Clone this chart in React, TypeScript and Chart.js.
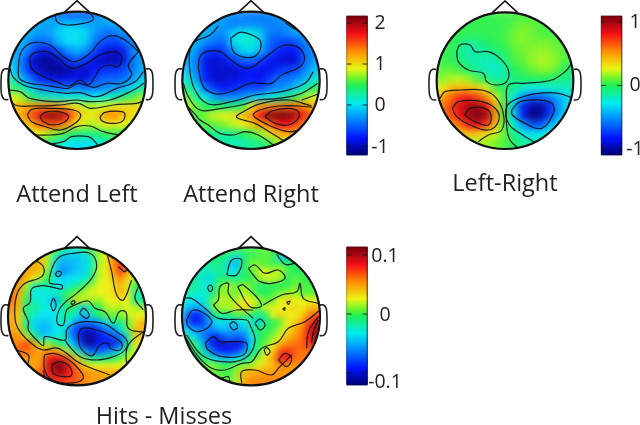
import React, { useEffect, useRef } from "react";
import { Chart, registerables } from "chart.js";

Chart.register(...registerables);

type Pt = number[];

// ---- scalp potential ----
const attendLeftGrid: number[][] = [
  [-.2,-.2,-.2,-.2,-.2,-.4,-.5,-.5,-.5,-.4,-.15,-.15,-.15,-.15,-.15],
  [-.2,-.2,-.2,-.2,-.25,-.2,-.1,-.15,-.2,-.25,-.25,-.2,-.2,-.2,-.2],
  [-.2,-.2,-.2,-.3,-.25,-.05,.02,.03,-.05,-.3,-.45,-.45,-.3,-.3,-.3],
  [-.15,-.15,-.4,-.5,-.45,-.15,0,0,-.1,-.45,-.6,-.65,-.55,-.3,-.3],
  [-.25,-.25,-.55,-.85,-.85,-.6,-.35,-.2,-.35,-.65,-.85,-.95,-.85,-.4,-.2],
  [-.1,-.4,-.9,-1.1,-1.1,-.95,-.7,-.55,-.7,-.9,-1,-1.05,-.95,-.45,-.25],
  [-.05,-.4,-.8,-1,-1.1,-1.15,-1.05,-.95,-.95,-.8,-.7,-.7,-.6,-.45,-.2],
  [.25,-.15,-.5,-.75,-.85,-.9,-.85,-.85,-.9,-.6,-.5,-.5,-.45,-.3,-.05],
  [.55,.25,-.05,-.3,-.4,-.45,-.4,-.35,-.45,-.4,-.35,-.3,-.2,-.05,.3],
  [.9,.75,.45,.25,.2,.15,.1,.15,.05,.05,.15,.2,.4,.55,.75],
  [1.1,1.2,1.3,1.35,1.35,1.25,1.1,.95,.8,.8,.85,.95,1,1,1],
  [1.05,1.2,1.5,1.85,2.1,2.05,1.75,1.2,.95,.95,1.25,1.35,1.15,1,.95],
  [1,1.05,1.15,1.45,1.55,1.5,1.25,.95,.8,.8,.9,.95,.9,.8,.8],
  [.9,.9,.9,.9,.75,.65,.5,.4,.35,.4,.5,.55,.5,.5,.5],
  [.55,.55,.55,.55,.35,.2,.05,0,0,.05,.2,.3,.3,.3,.3],
];

const attendRightGrid: number[][] = [
  [-.2,-.2,-.2,-.2,-.25,-.3,-.35,-.4,-.4,-.35,-.3,-.2,-.1,-.1,-.1],
  [-.15,-.15,-.15,-.2,-.3,-.4,-.35,-.35,-.35,-.4,-.35,-.3,-.1,-.05,-.05],
  [-.1,-.1,-.15,-.3,-.35,-.05,.1,.1,-.1,-.4,-.45,-.35,-.25,-.2,-.2],
  [-.05,-.2,-.35,-.45,-.5,0,.15,.15,-.05,-.5,-.6,-.65,-.55,-.35,-.3],
  [-.1,-.3,-.65,-.75,-.65,-.35,-.05,0,-.2,-.55,-.75,-.85,-.8,-.4,-.3],
  [-.2,-.4,-.85,-.95,-.85,-.7,-.55,-.5,-.65,-.8,-.9,-.95,-.9,-.45,-.25],
  [-.1,-.4,-.85,-.95,-.95,-.95,-.85,-.8,-.85,-.85,-.7,-.65,-.6,-.35,-.1],
  [.15,-.25,-.8,-.95,-.95,-.9,-.85,-.8,-.85,-.65,-.45,-.45,-.35,-.15,.15],
  [.4,.05,-.45,-.7,-.85,-.75,-.65,-.6,-.65,-.45,-.35,-.25,-.05,.25,.5],
  [.7,.3,.05,-.25,-.4,-.35,-.3,-.15,-.05,.1,.2,.35,.55,.75,.9],
  [.85,.65,.45,.45,.45,.4,.5,.95,1.3,1.35,1.4,1.45,1.45,1.3,1.15],
  [.6,.55,.7,.85,.9,.95,1.1,1.3,1.75,2.1,2.17,2.17,1.95,1.65,1.3],
  [.4,.45,.6,.6,.7,.8,.9,1.05,1.25,1.4,1.75,1.75,1.55,1.3,1.3],
  [.35,.35,.35,.3,.3,.35,.45,.55,.7,.95,1.15,1.2,1.2,1.2,1.2],
  [.25,.25,.25,.25,.25,.2,.25,.3,.35,.5,.8,.9,.9,.9,.9],
];

const leftRightGrid: number[][] = [
  [.02,.02,.02,.02,.02,.02,.05,.05,.05,.05,.05,.02,.02,.02,.02],
  [.03,.03,.03,.03,.03,.03,.03,.03,.08,.12,.1,.06,.05,.05,.05],
  [.03,.03,.03,.02,.02,.02,.03,.05,.12,.15,.1,.07,.05,.05,.05],
  [.02,.02,-.02,-.12,-.08,-.02,.02,.04,.12,.14,.12,.13,.12,.08,.08],
  [.03,.03,-.1,-.16,-.12,-.12,-.06,.01,.08,.12,.15,.17,.15,.1,.06],
  [.04,.03,-.05,-.12,-.16,-.18,-.16,-.06,.06,.1,.17,.2,.18,.12,.03],
  [.08,.1,.06,-.03,-.13,-.18,-.2,-.14,0,.05,.1,.14,.14,.05,-.05],
  [.15,.2,.22,.18,.08,-.05,-.15,-.12,-.06,-.04,-.02,0,-.02,-.06,-.1],
  [.3,.42,.45,.42,.38,.25,.05,-.02,-.1,-.2,-.25,-.25,-.22,-.2,-.18],
  [.5,.62,.78,.8,.72,.55,.25,0,-.28,-.55,-.65,-.65,-.55,-.4,-.3],
  [.55,.72,.88,1,1.02,.85,.42,.02,-.4,-.85,-1,-1,-.75,-.45,-.3],
  [.6,.68,.82,1.02,1.09,1,.5,.04,-.35,-.85,-1.09,-1,-.7,-.4,-.3],
  [.5,.5,.62,.8,.88,.72,.4,.05,-.25,-.5,-.7,-.65,-.4,-.3,-.3],
  [.4,.4,.4,.4,.4,.32,.22,.08,-.08,-.25,-.3,-.25,-.25,-.25,-.25],
  [.2,.2,.2,.2,.2,.17,.12,.06,-.02,-.1,-.15,-.15,-.15,-.15,-.15],
];

const hitsMissesAGrid: number[][] = [
  [.04,.04,.04,.04,.04,.03,.01,-.01,-.02,-.02,-.01,.01,.02,.03,.05,.05,.05,.05,.05],
  [.05,.05,.05,.05,.04,.02,-.02,-.04,-.04,-.04,-.035,-.015,.02,.03,.06,.06,.06,.06,.06],
  [.05,.05,.05,.05,.05,.02,-.035,-.05,-.045,-.04,-.035,-.02,.02,.03,.06,.08,.08,.07,.07],
  [.06,.06,.05,.05,.04,.01,-.035,-.06,-.045,-.04,-.035,-.01,.025,.03,.055,.08,.05,.04,.04],
  [.06,.06,.05,.03,.02,0,-.03,-.035,-.03,-.03,-.025,-.005,.025,.03,.04,.06,.035,.02,.02],
  [.06,.055,.02,-.02,-.015,-.015,-.025,-.035,-.02,-.01,.005,.02,.03,.03,.035,.05,.03,0,-.01],
  [.07,.05,.01,-.03,-.03,-.025,-.02,-.01,.005,.015,.02,.03,.03,.03,.035,.05,.03,-.015,-.02],
  [.07,.045,0,-.02,-.025,-.03,-.05,-.01,.01,.04,.02,.02,.015,.03,.03,.03,.03,-.01,-.015],
  [.06,.045,-.01,-.01,-.02,-.025,-.03,-.02,0,-.01,-.04,-.005,0,.02,.025,.02,.03,.02,.02],
  [.055,.04,-.005,-.02,-.03,-.03,-.03,-.015,-.01,-.03,-.045,-.02,0,.01,.01,.015,.025,.03,.03],
  [.055,.04,-.01,-.035,-.04,-.04,-.03,-.015,-.03,-.06,-.06,-.06,-.05,-.03,-.01,-.005,.01,.035,.05],
  [.055,.045,0,-.03,-.045,-.045,-.03,-.025,-.055,-.08,-.095,-.095,-.08,-.06,-.055,-.03,.01,.045,.05],
  [.06,.06,.035,0,-.035,-.035,-.025,-.02,-.05,-.08,-.11,-.11,-.095,-.085,-.07,-.065,-.02,.04,.045],
  [.06,.06,.08,.06,.02,.02,.005,-.005,-.03,-.06,-.1,-.11,-.085,-.085,-.1,-.07,-.01,.035,.035],
  [.07,.07,.065,.06,.055,.06,.06,.04,.015,-.02,-.05,-.07,-.07,-.06,-.05,-.03,.01,.03,.03],
  [.055,.055,.055,.055,.05,.09,.095,.09,.065,.04,.01,-.01,-.01,-.005,0,.01,.025,.025,.025],
  [.05,.05,.05,.05,.06,.095,.115,.115,.085,.06,.045,.03,.03,.03,.03,.03,.03,.03,.03],
  [.06,.06,.06,.06,.07,.085,.105,.105,.085,.07,.06,.055,.055,.05,.05,.05,.05,.05,.05],
  [.07,.07,.07,.07,.07,.08,.08,.08,.075,.07,.06,.055,.055,.05,.05,.05,.05,.05,.05],
];

const hitsMissesBGrid: number[][] = [
  [0,0,0,0,0,0,.005,.005,.005,.005,.005,.012,.005,-.02,-.03,-.03,-.02,-.02,-.02],
  [0,0,0,0,-.005,-.005,-.015,-.035,-.005,.005,.005,.01,.005,-.03,-.045,-.03,-.02,-.02,-.02],
  [-.015,-.015,-.015,-.015,-.01,-.01,-.035,-.045,-.005,.015,.015,.005,.005,.005,0,0,0,0,0],
  [-.015,-.015,-.015,-.02,-.015,-.01,-.03,-.03,0,.005,.025,.03,.02,.025,.005,0,0,0,0],
  [-.01,-.01,-.02,-.035,-.02,0,-.005,-.01,0,0,.015,.025,.025,.02,0,.01,.005,0,0],
  [-.01,-.01,-.02,-.025,-.01,.015,.02,.01,.02,.01,-.005,-.005,0,0,0,.015,.005,.005,.005],
  [-.015,-.02,-.025,-.02,-.005,.02,.015,.01,.025,.015,0,0,.005,.015,.02,.02,.01,.01,.01],
  [-.025,-.03,-.035,-.015,.015,.025,.02,.02,.03,.03,.02,.01,.01,.03,.04,.03,.03,.03,.03],
  [-.04,-.05,-.045,-.025,.015,.02,.02,.035,.04,.03,.005,.025,.03,.03,.03,.04,.03,.045,.05],
  [-.055,-.09,-.085,-.05,-.01,-.005,-.005,.005,.01,-.005,-.01,-.005,.03,.04,.035,.03,.04,.06,.075],
  [-.06,-.09,-.085,-.06,-.035,-.03,-.04,-.035,-.03,-.015,-.04,-.005,0,.01,.03,.04,.055,.08,.1],
  [-.03,-.05,-.06,-.06,-.055,-.04,-.045,-.05,-.04,-.015,0,0,.005,.02,.035,.05,.06,.09,.11],
  [-.01,-.03,-.05,-.07,-.09,-.075,-.06,-.07,-.065,-.03,-.005,.005,.015,.03,.045,.055,.065,.09,.11],
  [.005,.005,-.025,-.075,-.095,-.1,-.095,-.095,-.085,-.03,0,.01,.03,.05,.06,.065,.07,.08,.08],
  [-.005,-.005,-.005,-.045,-.075,-.085,-.085,-.08,-.055,-.015,0,.03,.04,.075,.085,.07,.065,.065,.065],
  [-.005,-.005,-.005,-.005,-.03,-.04,-.04,-.03,-.02,0,.02,.035,.05,.085,.09,.065,.065,.065,.065],
  [.015,.015,.015,.015,.015,.005,.005,.015,.015,.02,.03,.04,.045,.06,.055,.055,.055,.055,.055],
  [.01,.01,.01,.01,.01,.01,0,.02,.05,.05,.055,.055,.055,.055,.055,.055,.055,.055,.055],
  [.01,.01,.01,.01,.01,.01,.01,.02,.05,.06,.06,.06,.06,.06,.06,.06,.06,.06,.06],
];

// ---- contour lines (head units) ----
const attendLeftContours: Pt[][] = [
  [[165,45],[172,66],[200,75],[250,70],[280,58],[268,36]],
  [[55,205],[60,165],[75,140],[105,127],[150,135],[190,170],[225,185],[270,160],[300,125],[335,107],[375,120],[415,155]],
  [[55,205],[58,235],[90,250],[130,255],[175,262],[205,265],[235,250],[280,262],[320,250],[365,250],[395,225],[385,195],[415,155]],
  [[88,175],[100,160],[140,155],[175,175],[215,205],[260,190],[300,165],[345,155],[365,170],[355,200],[330,195],[300,205],[285,230],[265,255],[240,240],[205,258],[170,245],[120,225],[95,205],[88,175]],
  [[30,205],[40,232],[70,255],[130,270],[200,280],[240,278],[290,290],[350,265],[405,245],[430,215]],
  [[27,270],[60,275],[90,295],[170,305],[230,300],[270,305],[330,300],[400,270],[432,250]],
  [[28,290],[45,315],[100,318],[180,315],[235,310],[270,325],[340,315],[410,310],[425,305]],
  [[82,345],[95,328],[150,325],[220,330],[242,345],[225,370],[180,390],[130,378],[95,365],[82,345]],
  [[120,350],[135,337],[175,335],[205,348],[195,365],[160,375],[130,365],[120,350]],
  [[300,350],[315,337],[365,335],[375,345],[365,365],[330,370],[305,362],[300,350]],
  [[110,405],[150,405],[190,400],[230,380],[270,378],[310,395],[355,405]],
  [[150,432],[190,425],[215,410],[265,410],[280,420],[295,437]],
];

const attendRightContours: Pt[][] = [
  [[197,115],[225,97],[260,105],[287,125],[275,165],[240,172],[205,155],[197,115]],
  [[360,68],[385,85],[405,95]],
  [[160,78],[135,105],[90,125],[75,150],[75,215],[90,270],[130,312],[200,305],[270,285],[350,275],[420,250],[445,215]],
  [[100,205],[105,170],[125,155],[165,155],[205,185],[250,205],[310,165],[350,138],[395,140],[418,170],[405,200],[350,225],[320,250],[290,250],[255,250],[220,265],[180,280],[145,280],[115,260],[100,205]],
  [[55,250],[70,290],[105,330],[170,325],[230,315],[280,300],[340,295],[410,280],[458,250]],
  [[60,310],[92,345],[105,360],[130,375],[165,400],[205,405],[240,395],[280,405],[325,435]],
  [[440,318],[370,300],[290,310],[235,335],[215,352],[270,370],[320,400],[360,425]],
  [[440,322],[400,318],[340,318],[285,330],[265,345],[300,370],[370,395],[410,385],[445,350]],
  [[300,350],[320,333],[370,325],[400,335],[400,355],[370,375],[330,370],[300,350]],
  [[410,300],[460,282]],
];

const leftRightContours: Pt[][] = [
  [[95,155],[105,135],[135,135],[150,155],[190,155],[225,175],[250,210],[245,245],[215,255],[185,245],[175,220],[130,210],[100,185],[95,155]],
  [[440,190],[420,215],[380,240],[300,250],[250,255],[245,310],[245,380],[255,420],[280,445]],
  [[45,295],[60,275],[110,270],[170,270],[210,290],[235,340],[230,390],[190,405],[160,425]],
  [[82,325],[100,305],[170,305],[215,330],[220,365],[190,390],[135,375],[95,350],[82,325]],
  [[118,345],[135,325],[180,325],[198,345],[190,375],[150,365],[118,345]],
  [[445,295],[400,280],[340,280],[280,295],[245,320],[250,370],[285,400],[335,430]],
  [[260,330],[285,305],[340,300],[380,310],[385,340],[350,385],[300,370],[262,345],[260,330]],
];

const hitsMissesAContours: Pt[][] = [
  [[148,190],[160,150],[180,125],[220,115],[270,115],[290,150],[275,190],[230,235],[195,262],[175,290],[172,325],[190,330],[200,285],[225,270],[265,258],[285,280],[315,290],[340,325],[358,290],[378,292],[385,340],[432,352]],
  [[148,190],[150,205],[185,210],[185,222],[150,215],[125,212],[95,222],[90,262],[70,280],[85,320],[85,345],[110,375],[130,392],[135,365],[195,375],[200,345],[215,330],[255,320],[310,325],[350,350],[380,375],[375,405],[340,425],[290,435],[240,425],[205,390],[195,375]],
  [[235,360],[245,340],[290,345],[330,360],[365,385],[360,405],[330,400],[325,385],[300,390],[280,420],[265,420],[240,395],[235,360]],
  [[165,178],[175,168],[185,175],[175,185],[165,178]],
  [[152,270],[160,250],[168,270],[160,288],[152,270]],
  [[212,262],[222,257],[225,263],[215,268],[212,262]],
  [[238,295],[250,280],[268,300],[258,310],[238,295]],
  [[133,420],[160,415],[190,425],[225,450],[250,490],[200,505],[150,490],[133,460],[133,420]],
  [[155,450],[175,440],[205,450],[215,480],[190,485],[160,475],[155,450]],
  [[105,135],[130,155],[125,185],[75,205],[50,240],[45,310],[60,350],[100,390],[130,405],[175,400],[240,445],[330,480]],
  [[322,120],[335,170],[350,240],[370,255],[395,195]],
  [[355,155],[375,170],[385,150]],
  [[415,215],[405,250],[430,285]],
  [[50,405],[85,420],[85,445]],
  [[430,350],[385,390],[380,445],[395,452]],
  [[130,465],[135,490]],
];

const hitsMissesBContours: Pt[][] = [
  [[185,180],[200,135],[230,135],[215,180],[185,180]],
  [[335,118],[360,148],[390,145]],
  [[250,160],[270,150],[300,175],[340,165],[360,190],[320,205],[285,200],[265,180],[250,160]],
  [[127,218],[135,210],[143,220],[135,230],[127,218]],
  [[145,270],[160,255],[165,215],[190,205],[190,235],[225,275],[265,310]],
  [[145,270],[170,295],[215,285],[265,285]],
  [[218,215],[235,210],[290,270],[255,275],[218,215]],
  [[55,250],[80,250],[120,280],[160,310],[245,315],[255,330],[270,380],[240,430],[170,440],[110,420],[65,360]],
  [[65,315],[85,285],[125,300],[140,325],[100,350],[70,335],[65,315]],
  [[120,385],[145,365],[165,380],[205,380],[245,385],[235,420],[170,425],[130,405],[120,385]],
  [[193,330],[205,320],[218,335],[205,345],[193,330]],
  [[270,325],[285,312],[300,330],[285,345],[270,325]],
  [[60,365],[100,425],[140,460],[180,465],[230,445],[260,440],[290,400],[340,380],[370,340],[420,320],[465,285]],
  [[295,270],[350,240],[395,230],[405,205],[415,250],[460,265]],
  [[230,505],[230,470],[270,465],[320,480],[340,460],[380,420]],
  [[340,435],[360,415],[380,430],[365,455],[340,435]],
  [[425,400],[430,350],[460,305]],
  [[440,385],[445,350],[460,315]],
  [[297,405],[305,398],[315,410],[305,420],[297,405]],
  [[365,262],[375,258],[370,268],[365,262]],
  [[353,282],[360,278],[358,286],[353,282]],
  [[170,490],[190,485],[195,500]],
];

// ---- colour bars: tick values and labels ----
const barTicksA = [2, 1, 0, -1];
const barLabelsA = ["2", "1", "0", "-1"];
const barTicksB = [1, 0, -1];
const barLabelsB = ["1", "0", "-1"];
const barTicksC = [0.1, 0, -0.1];
const barLabelsC = ["0.1", "0", "-0.1"];
const captions = ["Attend Left", "Attend Right", "Left-Right", "Hits - Misses"];

// ---- layout ----
const W = 640, H = 425;
const TEXT = "#231f20";
const FONT = '"Open Sans", sans-serif';
const heads = [
  { grid: attendLeftGrid, contours: attendLeftContours, ox: 0, oy: 0, cx: 231, cy: 241, r: 206, lim: [-1.22, 2.17] },
  { grid: attendRightGrid, contours: attendRightContours, ox: 165, oy: 0, cx: 258, cy: 241, r: 206, lim: [-1.22, 2.17] },
  { grid: leftRightGrid, contours: leftRightContours, ox: 425, oy: 0, cx: 240, cy: 242, r: 205, lim: [-1.094, 1.094] },
  { grid: hitsMissesAGrid, contours: hitsMissesAContours, ox: 0, oy: 215, cx: 231, cy: 304, r: 207, lim: [-0.117, 0.117] },
  { grid: hitsMissesBGrid, contours: hitsMissesBContours, ox: 165, oy: 215, cx: 258, cy: 304, r: 207, lim: [-0.117, 0.117] },
];
const bars = [
  { id: "yBarA", x: 357, y0: 105, perUnit: 41, lim: [-1.22, 2.17], ticks: barTicksA, labels: barLabelsA, labelX: 380, labelDy: [0, 0, 0, 1] },
  { id: "yBarB", x: 611.5, y0: 85.5, perUnit: 63.5, lim: [-1.094, 1.094], ticks: barTicksB, labels: barLabelsB, labelX: 635, labelDy: [0, 0, 0] },
  { id: "yBarC", x: 357, y0: 314, perUnit: 590, lim: [-0.1203, 0.1136], ticks: barTicksC, labels: barLabelsC, labelX: 385, labelDy: [1, 1, 9] },
];
const captionPos = [[77, 195], [251, 195], [505, 184], [164, 417]];
const earShape: Pt[] = [[206, -34], [218, -34], [226, -22], [228, 12], [226, 44], [218, 57], [206, 58]];
const noseShape: Pt[] = [[-38, -204], [0, -239], [38, -204]];

// colour ramp of the printed bar
const ramp: number[][] = [
  [0, 0, 0, 110], [0.125, 0, 20, 255], [0.25, 0, 130, 255], [0.375, 0, 235, 240], [0.5, 30, 240, 90],
  [0.56, 120, 245, 40], [0.625, 235, 245, 20], [0.75, 255, 140, 0], [0.875, 245, 15, 25], [1, 120, 0, 10],
];

function jet(t0: number): string {
  const t = Math.max(0, Math.min(1, t0));
  let k = 0;
  while (k < ramp.length - 2 && t > ramp[k + 1][0]) k++;
  const a = ramp[k], b = ramp[k + 1];
  const f = (t - a[0]) / (b[0] - a[0]);
  const m = (i: number) => Math.round(a[i] + (b[i] - a[i]) * f);
  return `rgb(${m(1)},${m(2)},${m(3)})`;
}

const topoPlugin = {
  id: "topo",
  beforeDatasetDraw(chart: any, args: any) {
    const ds = chart.data.datasets[args.index];
    if (ds.headClip === undefined) return;
    const h = heads[ds.headClip];
    const xs = chart.scales["x" + ds.headClip];
    const ys = chart.scales["y" + ds.headClip];
    const ctx = chart.ctx;
    ctx.save();
    ctx.beginPath();
    ctx.arc(xs.getPixelForValue(h.cx), ys.getPixelForValue(h.cy), h.r / 3, 0, Math.PI * 2);
    ctx.clip();
    if (ds.blurPx) ctx.filter = `blur(${ds.blurPx}px)`;
  },
  afterDatasetDraw(chart: any, args: any) {
    const ds = chart.data.datasets[args.index];
    if (ds.headClip !== undefined) chart.ctx.restore();
  },
  afterDraw(chart: any) {
    const ctx = chart.ctx;
    ctx.save();
    ctx.fillStyle = TEXT;
    ctx.textBaseline = "middle";
    ctx.textAlign = "center";
    ctx.font = `23.5px ${FONT}`;
    captions.forEach((c, i) => ctx.fillText(c, captionPos[i][0], captionPos[i][1]));
    ctx.font = `19.5px ${FONT}`;
    bars.forEach((b) => {
      const s = chart.scales[b.id];
      b.labels.forEach((l, i) => ctx.fillText(l, b.labelX, s.getPixelForValue(b.ticks[i]) + b.labelDy[i]));
    });
    ctx.restore();
  },
};

function buildDatasets(): any[] {
  const sets: any[] = [];
  heads.forEach((h, i) => {
    const base = { xAxisID: "x" + i, yAxisID: "y" + i, clip: false };
    const line = { ...base, type: "scatter", showLine: true, pointRadius: 0, fill: false };
    // scalp outline, nose, ears
    sets.push({ ...base, type: "scatter", order: 0, data: [{ x: h.cx, y: h.cy }], pointRadius: h.r / 3, pointStyle: "circle",
      pointBackgroundColor: "rgba(0,0,0,0)", pointBorderColor: "#111", pointBorderWidth: 2.2 });
    sets.push({ ...line, order: 0, borderColor: "#111", borderWidth: 1.6, tension: 0,
      data: noseShape.map((p) => ({ x: h.cx + p[0], y: h.cy + p[1] })) });
    [1, -1].forEach((side) => sets.push({ ...line, order: 0, borderColor: "#222", borderWidth: 1.6, tension: 0.3,
      data: earShape.map((p) => ({ x: h.cx + side * p[0], y: h.cy + p[1] })) }));
    // contours
    h.contours.forEach((c) => sets.push({ ...line, order: 1, headClip: i, borderColor: "rgba(15,15,25,0.9)", borderWidth: 1.2, tension: 0.4,
      data: c.map((p) => ({ x: p[0], y: p[1] })) }));
    // heat cells
    const n = h.grid.length;
    const cell = (2 * h.r) / n;
    const pts: any[] = [];
    const cols: string[] = [];
    h.grid.forEach((row, j) => row.forEach((v, k) => {
      pts.push({ x: h.cx - h.r + (k + 0.72) * cell, y: h.cy - h.r + (j + 0.72) * cell });
      cols.push(jet((v - h.lim[0]) / (h.lim[1] - h.lim[0])));
    }));
    const px = cell / 3;
    sets.push({ ...base, type: "scatter", order: 2, headClip: i, blurPx: px * 0.42, data: pts, pointStyle: "rect",
      pointRadius: (px * 1.55) / Math.SQRT2, pointBorderWidth: 0, pointBackgroundColor: cols });
  });
  bars.forEach((b) => {
    const steps = 92;
    const d = (b.lim[1] - b.lim[0]) / steps;
    const data: any[] = [];
    const cols: string[] = [];
    for (let k = 0; k < steps; k++) {
      const lo = b.lim[0] + k * d;
      data.push({ x: b.x, y: [lo, lo + d * 1.4 > b.lim[1] ? b.lim[1] : lo + d * 1.4] });
      cols.push(jet((k + 0.5) / steps));
    }
    sets.push({ type: "bar", xAxisID: "xPage", yAxisID: b.id, order: 2, grouped: false, barThickness: 20.5, data, backgroundColor: cols, borderWidth: 0, clip: false });
    b.ticks.forEach((t) => {
      [[-10.3, -5.5], [5.5, 10.3]].forEach((e) => sets.push({ type: "scatter", xAxisID: "xPage", yAxisID: b.id, order: 0, showLine: true, pointRadius: 0,
        borderColor: "rgba(20,20,20,0.85)", borderWidth: 1, data: [{ x: b.x + e[0], y: t }, { x: b.x + e[1], y: t }] }));
    });
    const L = b.x - 10.25, R = b.x + 10.25;
    sets.push({ type: "scatter", xAxisID: "xPage", yAxisID: b.id, order: 0, showLine: true, pointRadius: 0, borderColor: "rgba(20,20,40,0.45)", borderWidth: 0.7,
      data: [{ x: L, y: b.lim[0] }, { x: L, y: b.lim[1] }, { x: R, y: b.lim[1] }, { x: R, y: b.lim[0] }, { x: L, y: b.lim[0] }] });
  });
  return sets;
}

function buildScales(): any {
  const hidden = { type: "linear", display: false, offset: false };
  const scales: any = { xPage: { ...hidden, axis: "x", min: 0, max: W } };
  heads.forEach((h, i) => {
    scales["x" + i] = { ...hidden, axis: "x", min: -h.ox * 3, max: (W - h.ox) * 3 };
    scales["y" + i] = { ...hidden, axis: "y", reverse: true, min: -h.oy * 3, max: (H - h.oy) * 3 };
  });
  bars.forEach((b) => {
    scales[b.id] = { ...hidden, axis: "y", min: (b.y0 - H) / b.perUnit, max: b.y0 / b.perUnit };
  });
  return scales;
}

export default function App() {
  const ref = useRef<HTMLCanvasElement>(null);
  useEffect(() => {
    const chart = new Chart(ref.current as HTMLCanvasElement, {
      type: "scatter",
      data: { datasets: buildDatasets() },
      options: {
        animation: false,
        responsive: false,
        devicePixelRatio: 1,
        events: [],
        layout: { padding: 0, autoPadding: false },
        plugins: { legend: { display: false }, tooltip: { enabled: false }, title: { display: false } },
        scales: buildScales(),
      },
      plugins: [topoPlugin],
    } as any);
    return () => chart.destroy();
  }, []);
  return (
    <div style={{ position: "absolute", left: 0, top: 0, width: W, height: H, background: "#fff" }}>
      <canvas ref={ref} width={W} height={H} style={{ display: "block" }} />
    </div>
  );
}
